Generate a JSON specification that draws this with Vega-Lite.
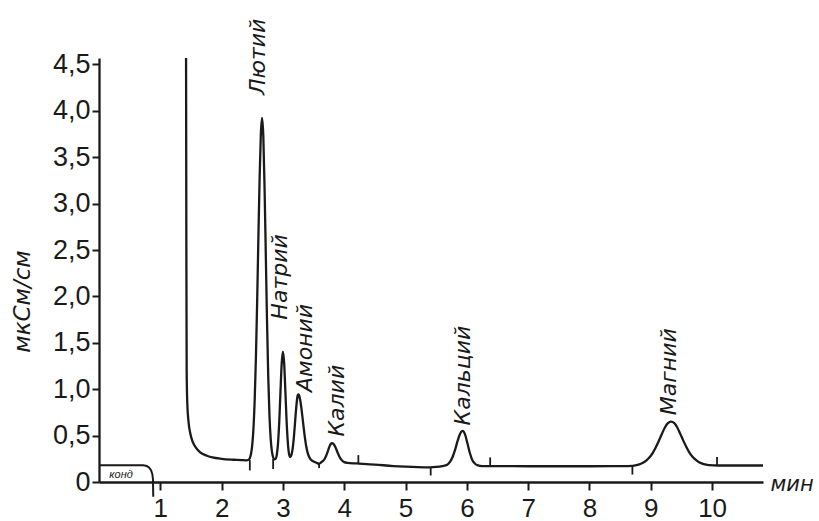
{
  "$schema": "https://vega.github.io/schema/vega-lite/v6.json",
  "width": 664,
  "height": 424,
  "autosize": {"type": "none"},
  "padding": {"left": 99, "top": 58, "right": 56, "bottom": 39},
  "background": "#ffffff",
  "config": {
    "view": {"stroke": null},
    "font": "Liberation Sans"
  },
  "datasets": {
    "trace": [
      {"t": 1.42, "v": 4.57}, {"t": 1.425, "v": 2.5}, {"t": 1.43, "v": 1.2}, {"t": 1.44, "v": 0.85},
      {"t": 1.46, "v": 0.65}, {"t": 1.49, "v": 0.52}, {"t": 1.53, "v": 0.43}, {"t": 1.58, "v": 0.37},
      {"t": 1.65, "v": 0.32}, {"t": 1.75, "v": 0.285}, {"t": 1.85, "v": 0.265}, {"t": 2.0, "v": 0.25},
      {"t": 2.2, "v": 0.24}, {"t": 2.4, "v": 0.233}, {"t": 2.44, "v": 0.24}, {"t": 2.46, "v": 0.258},
      {"t": 2.48, "v": 0.305}, {"t": 2.5, "v": 0.403}, {"t": 2.52, "v": 0.588}, {"t": 2.54, "v": 0.898},
      {"t": 2.56, "v": 1.355}, {"t": 2.58, "v": 1.96}, {"t": 2.6, "v": 2.645}, {"t": 2.62, "v": 3.285},
      {"t": 2.64, "v": 3.755}, {"t": 2.66, "v": 3.925}, {"t": 2.68, "v": 3.725}, {"t": 2.7, "v": 3.185},
      {"t": 2.72, "v": 2.47}, {"t": 2.74, "v": 1.745}, {"t": 2.76, "v": 1.147}, {"t": 2.78, "v": 0.725},
      {"t": 2.8, "v": 0.468}, {"t": 2.82, "v": 0.33}, {"t": 2.84, "v": 0.267}, {"t": 2.86, "v": 0.244},
      {"t": 2.88, "v": 0.249}, {"t": 2.9, "v": 0.294}, {"t": 2.92, "v": 0.417}, {"t": 2.94, "v": 0.65},
      {"t": 2.96, "v": 0.975}, {"t": 2.98, "v": 1.279}, {"t": 3.0, "v": 1.405}, {"t": 3.02, "v": 1.279},
      {"t": 3.04, "v": 0.975}, {"t": 3.06, "v": 0.655}, {"t": 3.08, "v": 0.425}, {"t": 3.1, "v": 0.302},
      {"t": 3.12, "v": 0.269}, {"t": 3.14, "v": 0.294}, {"t": 3.16, "v": 0.368}, {"t": 3.18, "v": 0.495},
      {"t": 3.2, "v": 0.662}, {"t": 3.22, "v": 0.826}, {"t": 3.24, "v": 0.931}, {"t": 3.25, "v": 0.945},
      {"t": 3.26, "v": 0.939}, {"t": 3.28, "v": 0.89}, {"t": 3.3, "v": 0.802}, {"t": 3.32, "v": 0.691},
      {"t": 3.34, "v": 0.575}, {"t": 3.36, "v": 0.471}, {"t": 3.38, "v": 0.385}, {"t": 3.4, "v": 0.322},
      {"t": 3.44, "v": 0.254}, {"t": 3.48, "v": 0.228}, {"t": 3.52, "v": 0.215}, {"t": 3.56, "v": 0.203},
      {"t": 3.59, "v": 0.196}, {"t": 3.62, "v": 0.21}, {"t": 3.64, "v": 0.22}, {"t": 3.68, "v": 0.248},
      {"t": 3.72, "v": 0.308}, {"t": 3.74, "v": 0.347}, {"t": 3.76, "v": 0.384}, {"t": 3.78, "v": 0.41},
      {"t": 3.8, "v": 0.42}, {"t": 3.82, "v": 0.413}, {"t": 3.84, "v": 0.395}, {"t": 3.86, "v": 0.369},
      {"t": 3.88, "v": 0.337}, {"t": 3.9, "v": 0.305}, {"t": 3.92, "v": 0.276}, {"t": 3.94, "v": 0.252},
      {"t": 3.96, "v": 0.235}, {"t": 3.98, "v": 0.223}, {"t": 4.0, "v": 0.214}, {"t": 4.05, "v": 0.206},
      {"t": 4.2, "v": 0.2}, {"t": 4.5, "v": 0.188}, {"t": 4.8, "v": 0.172}, {"t": 5.0, "v": 0.165},
      {"t": 5.2, "v": 0.16}, {"t": 5.4, "v": 0.158}, {"t": 5.5, "v": 0.162}, {"t": 5.6, "v": 0.172},
      {"t": 5.68, "v": 0.187}, {"t": 5.73, "v": 0.222}, {"t": 5.77, "v": 0.275}, {"t": 5.81, "v": 0.352},
      {"t": 5.85, "v": 0.445}, {"t": 5.89, "v": 0.52}, {"t": 5.93, "v": 0.55}, {"t": 5.97, "v": 0.513},
      {"t": 6.01, "v": 0.415}, {"t": 6.05, "v": 0.31}, {"t": 6.09, "v": 0.235}, {"t": 6.13, "v": 0.2},
      {"t": 6.18, "v": 0.18}, {"t": 6.25, "v": 0.172}, {"t": 6.5, "v": 0.172}, {"t": 7.0, "v": 0.17},
      {"t": 8.0, "v": 0.17}, {"t": 8.6, "v": 0.172}, {"t": 8.7, "v": 0.173}, {"t": 8.78, "v": 0.184},
      {"t": 8.83, "v": 0.194}, {"t": 8.88, "v": 0.21}, {"t": 8.93, "v": 0.234}, {"t": 8.98, "v": 0.267},
      {"t": 9.03, "v": 0.312}, {"t": 9.08, "v": 0.372}, {"t": 9.13, "v": 0.442}, {"t": 9.18, "v": 0.517},
      {"t": 9.23, "v": 0.587}, {"t": 9.28, "v": 0.634}, {"t": 9.33, "v": 0.65}, {"t": 9.38, "v": 0.636},
      {"t": 9.43, "v": 0.59}, {"t": 9.48, "v": 0.52}, {"t": 9.53, "v": 0.446}, {"t": 9.58, "v": 0.377},
      {"t": 9.63, "v": 0.317}, {"t": 9.68, "v": 0.272}, {"t": 9.73, "v": 0.24}, {"t": 9.78, "v": 0.216},
      {"t": 9.83, "v": 0.2}, {"t": 9.88, "v": 0.19}, {"t": 9.95, "v": 0.181}, {"t": 10.1, "v": 0.178},
      {"t": 10.83, "v": 0.178}
    ],
    "kond": [
      {"t": 0.0, "v": 0.18}, {"t": 0.72, "v": 0.18}, {"t": 0.78, "v": 0.172}, {"t": 0.82, "v": 0.155},
      {"t": 0.85, "v": 0.125}, {"t": 0.87, "v": 0.085}, {"t": 0.88, "v": 0.03}, {"t": 0.885, "v": -0.16}
    ],
    "marks": [
      {"t": 2.46, "a": 0.235, "b": 0.125},
      {"t": 2.84, "a": 0.25, "b": 0.14},
      {"t": 3.59, "a": 0.196, "b": 0.15},
      {"t": 4.23, "a": 0.2, "b": 0.29},
      {"t": 5.41, "a": 0.158, "b": 0.07},
      {"t": 6.38, "a": 0.172, "b": 0.265},
      {"t": 8.7, "a": 0.173, "b": 0.08},
      {"t": 10.08, "a": 0.178, "b": 0.27}
    ],
    "labels": [
      {"t": 2.59, "v": 4.17, "name": "Лютий"},
      {"t": 2.96, "v": 1.75, "name": "Натрий"},
      {"t": 3.36, "v": 0.97, "name": "Амоний"},
      {"t": 3.88, "v": 0.49, "name": "Калий"},
      {"t": 5.94, "v": 0.61, "name": "Кальций"},
      {"t": 9.29, "v": 0.72, "name": "Магний"}
    ],
    "kondlabel": [
      {"t": 0.36, "v": 0.08, "name": "конд"}
    ]
  },
  "layer": [
    {
      "data": {"name": "trace"},
      "mark": {"type": "line", "color": "#1a1a1a", "strokeWidth": 2.3, "interpolate": "monotone"},
      "encoding": {
        "x": {
          "field": "t", "type": "quantitative",
          "scale": {"domain": [0, 10.83], "nice": false, "zero": false},
          "axis": {
            "values": [1, 2, 3, 4, 5, 6, 7, 8, 9, 10],
            "format": "d",
            "title": "мин",
            "titleX": 671, "titleY": 8, "titleAlign": "left", "titleBaseline": "alphabetic",
            "titleFont": "DejaVu Sans", "titleFontStyle": "italic", "titleFontWeight": "normal",
            "titleFontSize": 21, "titleColor": "#1a1a1a",
            "domainColor": "#1a1a1a", "domainWidth": 2.3,
            "tickColor": "#1a1a1a", "tickWidth": 2, "tickSize": 8,
            "labelFontSize": 26, "labelColor": "#1a1a1a", "labelPadding": 5,
            "grid": false
          }
        },
        "y": {
          "field": "v", "type": "quantitative",
          "scale": {"domain": [0, 4.57], "nice": false, "zero": false},
          "axis": {
            "values": [0, 0.5, 1, 1.5, 2, 2.5, 3, 3.5, 4, 4.5],
            "labelExpr": "datum.value == 0 ? '0' : replace(format(datum.value, '.1f'), '.', ',')",
            "title": "мкСм/см",
            "titleX": -77, "titleY": 243, "titleAngle": -90, "titleAlign": "center", "titleBaseline": "middle",
            "titleFont": "DejaVu Sans", "titleFontStyle": "italic", "titleFontWeight": "normal",
            "titleFontSize": 23, "titleColor": "#1a1a1a",
            "domainColor": "#1a1a1a", "domainWidth": 2.3,
            "tickColor": "#1a1a1a", "tickWidth": 2, "tickSize": 7,
            "labelFontSize": 27, "labelColor": "#1a1a1a", "labelPadding": 2,
            "grid": false
          }
        }
      }
    },
    {
      "data": {"name": "kond"},
      "mark": {"type": "line", "color": "#1a1a1a", "strokeWidth": 2},
      "encoding": {
        "x": {"field": "t", "type": "quantitative"},
        "y": {"field": "v", "type": "quantitative"}
      }
    },
    {
      "data": {"name": "marks"},
      "mark": {"type": "rule", "color": "#1a1a1a", "strokeWidth": 1.8},
      "encoding": {
        "x": {"field": "t", "type": "quantitative"},
        "y": {"field": "a", "type": "quantitative"},
        "y2": {"field": "b"}
      }
    },
    {
      "data": {"name": "labels"},
      "mark": {"type": "text", "angle": -90, "align": "left", "baseline": "middle", "font": "DejaVu Sans", "fontStyle": "italic", "fontSize": 22, "color": "#1a1a1a"},
      "encoding": {
        "x": {"field": "t", "type": "quantitative"},
        "y": {"field": "v", "type": "quantitative"},
        "text": {"field": "name"}
      }
    },
    {
      "data": {"name": "kondlabel"},
      "mark": {"type": "text", "align": "center", "baseline": "middle", "font": "Liberation Sans", "fontStyle": "italic", "fontSize": 11, "color": "#1a1a1a"},
      "encoding": {
        "x": {"field": "t", "type": "quantitative"},
        "y": {"field": "v", "type": "quantitative"},
        "text": {"field": "name"}
      }
    }
  ]
}
